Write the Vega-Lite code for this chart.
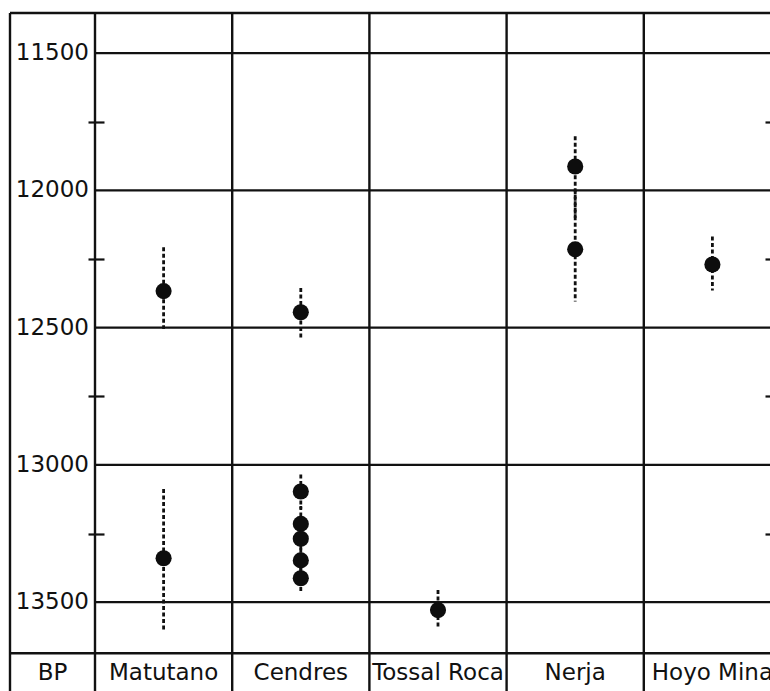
{
  "$schema": "https://vega.github.io/schema/vega-lite/v6.json",
  "padding": {"left": 8, "top": 11, "right": 0, "bottom": 0},
  "background": "white",
  "spacing": 0,
  "bounds": "flush",
  "config": {"view": {"stroke": null}, "font": "DejaVu Sans"},
  "datasets": {
    "sites": [
      {"site": "Matutano"}, {"site": "Cendres"}, {"site": "Tossal Roca"}, {"site": "Nerja"}, {"site": "Hoyo Mina"}
    ],
    "ticks": [
      {"bp": 11500}, {"bp": 12000}, {"bp": 12500}, {"bp": 13000}, {"bp": 13500}
    ],
    "dates": [
      {"site": "Matutano", "bp": 12367, "lo": 12207, "hi": 12505},
      {"site": "Matutano", "bp": 13340, "lo": 13088, "hi": 13606},
      {"site": "Cendres", "bp": 12444, "lo": 12356, "hi": 12542},
      {"site": "Cendres", "bp": 13097, "lo": 13035, "hi": 13160},
      {"site": "Cendres", "bp": 13215, "lo": 13150, "hi": 13290},
      {"site": "Cendres", "bp": 13269, "lo": 13200, "hi": 13330},
      {"site": "Cendres", "bp": 13348, "lo": 13280, "hi": 13410},
      {"site": "Cendres", "bp": 13413, "lo": 13350, "hi": 13466},
      {"site": "Tossal Roca", "bp": 13529, "lo": 13456, "hi": 13598},
      {"site": "Nerja", "bp": 11913, "lo": 11803, "hi": 12100},
      {"site": "Nerja", "bp": 12215, "lo": 12000, "hi": 12405},
      {"site": "Hoyo Mina", "bp": 12270, "lo": 12168, "hi": 12365}
    ]
  },
  "hconcat": [
    {
      "width": 85,
      "height": 680,
      "layer": [
        {
          "data": {"values": [{"col": "BP"}]},
          "mark": {"type": "rule", "color": "#111", "strokeWidth": 2.4},
          "encoding": {
            "x": {"field": "col", "type": "nominal", "bandPosition": 0,
                  "scale": {"type": "band", "domain": ["BP"], "paddingInner": 0, "paddingOuter": 0}, "axis": null}
          }
        },
        {
          "data": {"values": [{"col": "BP"}]},
          "mark": {"type": "rule", "color": "#111", "strokeWidth": 2.4},
          "encoding": {
            "y": {"datum": 11354, "type": "quantitative",
                  "scale": {"domain": [11354, 13831], "reverse": true, "nice": false, "zero": false}, "axis": null}
          }
        },
        {
          "data": {"values": [{"col": "BP"}]},
          "mark": {"type": "rule", "color": "#111", "strokeWidth": 2.4},
          "encoding": {
            "y": {"datum": 13686, "type": "quantitative", "axis": null}
          }
        },
        {
          "data": {"name": "ticks"},
          "mark": {"type": "text", "align": "right", "baseline": "middle", "dx": -6, "fontSize": 23, "color": "#111"},
          "encoding": {
            "x": {"datum": "BP", "type": "nominal", "bandPosition": 1, "axis": null},
            "y": {"field": "bp", "type": "quantitative", "axis": null},
            "text": {"field": "bp", "type": "quantitative", "format": "d"}
          }
        },
        {
          "data": {"values": [{"col": "BP"}]},
          "mark": {"type": "text", "align": "center", "baseline": "middle", "fontSize": 23, "color": "#111"},
          "encoding": {
            "x": {"field": "col", "type": "nominal", "axis": null},
            "y": {"datum": 13758, "type": "quantitative", "axis": null},
            "text": {"field": "col"}
          }
        }
      ]
    },
    {
      "width": 677,
      "height": 680,
      "resolve": {"axis": {"y": "independent"}},
      "layer": [
        {
          "data": {"name": "ticks"},
          "mark": {"type": "rule", "color": "#111", "strokeWidth": 2.4},
          "encoding": {
            "y": {"field": "bp", "type": "quantitative",
                  "scale": {"domain": [11354, 13831], "reverse": true, "nice": false, "zero": false},
                  "axis": {"orient": "left", "offset": -9, "tickSize": 16, "tickWidth": 2.2, "tickColor": "#111",
                           "values": [11750, 12250, 12750, 13250], "labels": false, "domain": false, "grid": false, "title": null}}
          }
        },
        {
          "data": {"values": [{"edge": "top"}]},
          "mark": {"type": "rule", "color": "#111", "strokeWidth": 2.4},
          "encoding": {"y": {"datum": 11354, "type": "quantitative", "axis": null}}
        },
        {
          "data": {"values": [{"edge": "labels"}]},
          "mark": {"type": "rule", "color": "#111", "strokeWidth": 2.4},
          "encoding": {"y": {"datum": 13686, "type": "quantitative", "axis": null}}
        },
        {
          "data": {"name": "sites"},
          "mark": {"type": "rule", "color": "#111", "strokeWidth": 2.4},
          "encoding": {
            "x": {"field": "site", "type": "nominal", "bandPosition": 0,
                  "scale": {"type": "band", "domain": ["Matutano", "Cendres", "Tossal Roca", "Nerja", "Hoyo Mina"],
                            "range": [0, 686], "paddingInner": 0, "paddingOuter": 0},
                  "axis": null}
          }
        },
        {
          "data": {"name": "dates"},
          "mark": {"type": "rule", "color": "#111", "strokeWidth": 2.8, "strokeDash": [4, 2.5]},
          "encoding": {
            "x": {"field": "site", "type": "nominal", "axis": null},
            "y": {"field": "lo", "type": "quantitative", "axis": null},
            "y2": {"field": "hi"}
          }
        },
        {
          "data": {"name": "dates"},
          "mark": {"type": "point", "filled": true, "color": "#0d0d0d", "opacity": 1, "size": 260},
          "encoding": {
            "x": {"field": "site", "type": "nominal", "axis": null},
            "y": {"field": "bp", "type": "quantitative",
                  "axis": {"orient": "right", "offset": -7, "tickSize": 16, "tickWidth": 2.2, "tickColor": "#111",
                           "values": [11750, 12250, 12750, 13250], "labels": false, "domain": false, "grid": false, "title": null}}
          }
        },
        {
          "data": {"name": "sites"},
          "mark": {"type": "text", "align": "center", "baseline": "middle", "fontSize": 23, "color": "#111"},
          "encoding": {
            "x": {"field": "site", "type": "nominal", "axis": null},
            "y": {"datum": 13758, "type": "quantitative", "axis": null},
            "text": {"field": "site"}
          }
        }
      ]
    }
  ]
}
